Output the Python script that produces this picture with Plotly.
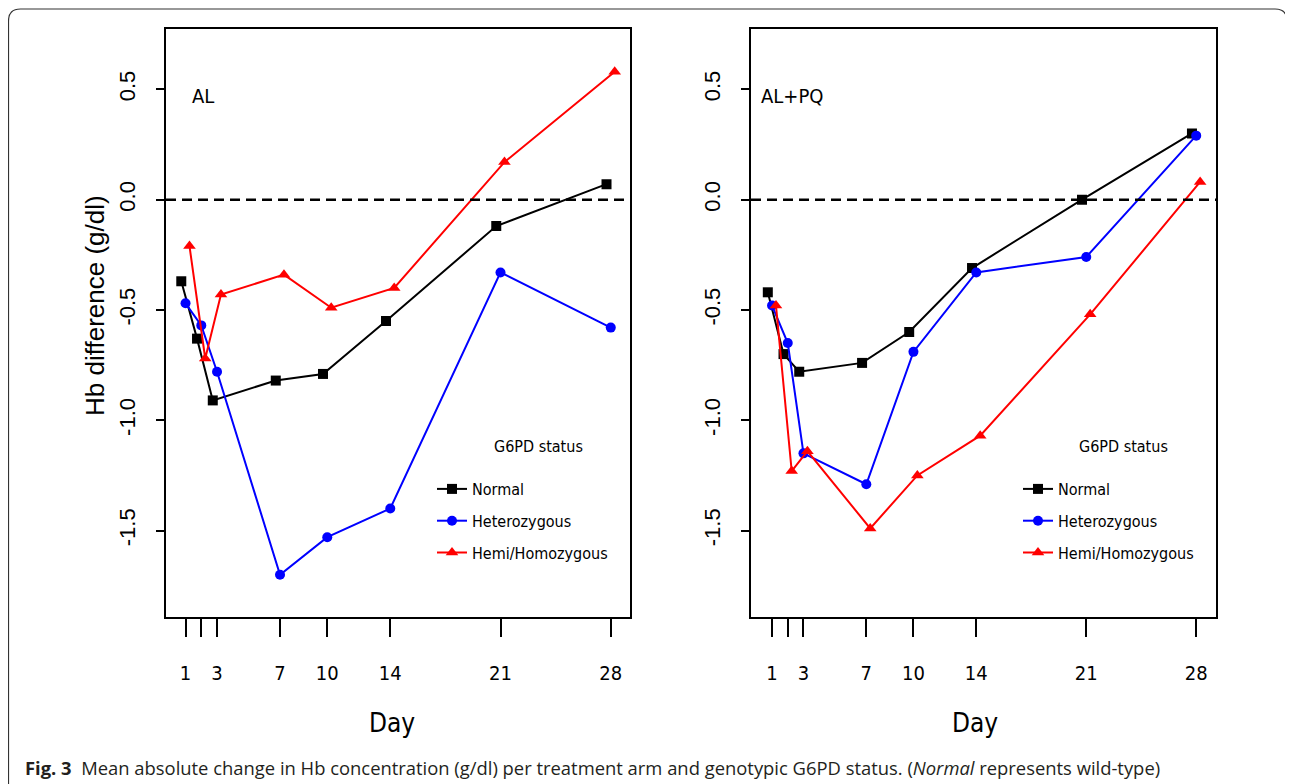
import plotly.graph_objects as go

# page is shown with the browser's default 8px body margin; the figure is
# sized and positioned so that it lands on the 1293x784 reference frame.
OFF = 8
W, H = 1293 - OFF, 784 - OFF

days = [1, 2, 3, 7, 10, 14, 21, 28]
tick_text = ["1", "", "3", "7", "10", "14", "21", "28"]
series_names = ["Normal", "Heterozygous", "Hemi/Homozygous"]

# AL arm
al_normal = [-0.37, -0.63, -0.91, -0.82, -0.79, -0.55, -0.12, 0.07]
al_hetero = [-0.47, -0.57, -0.78, -1.70, -1.53, -1.40, -0.33, -0.58]
al_hemi = [-0.21, -0.72, -0.43, -0.34, -0.49, -0.40, 0.17, 0.58]

# AL+PQ arm
pq_normal = [-0.42, -0.70, -0.78, -0.74, -0.60, -0.31, 0.00, 0.30]
pq_hetero = [-0.48, -0.65, -1.15, -1.29, -0.69, -0.33, -0.26, 0.29]
pq_hemi = [-0.48, -1.23, -1.14, -1.49, -1.25, -1.07, -0.52, 0.08]

panel_titles = ["AL", "AL+PQ"]
y_ticks = [0.5, 0.0, -0.5, -1.0, -1.5]

# styling
colors = ["#000000", "#0000ff", "#ff0000"]
symbols = ["square", "circle", "triangle-up"]
msizes = [10, 10, 11]
dodge = [-0.27, 0.0, 0.25]   # small horizontal offset used in the original plot

NARROW = "DejaVu Sans Condensed, Liberation Sans Narrow, Arial Narrow, sans-serif"
SANS = "Liberation Sans, Arial, sans-serif"


def px(x):
    return (x - OFF) / W


def py(y):
    return 1 - (y - OFF) / H


fig = go.Figure()

panels = [
    (al_normal, al_hetero, al_hemi),
    (pq_normal, pq_hetero, pq_hemi),
]
xdomains = [[px(166), px(629.5)], [px(751), px(1216)]]
xranges = [[-0.24, 29.19], [-0.34, 29.26]]
ydomain = [py(617.3), py(29.3)]
yrange = [-1.893, 0.772]

for p, vals in enumerate(panels):
    xa = "x" if p == 0 else "x2"
    ya = "y" if p == 0 else "y2"
    leg = "legend" if p == 0 else "legend2"
    for s, v in enumerate(vals):
        fig.add_trace(go.Scatter(
            x=[d + dodge[s] for d in days], y=v,
            mode="lines+markers", name=series_names[s],
            line=dict(color=colors[s], width=2),
            marker=dict(symbol=symbols[s], size=msizes[s], color=colors[s]),
            xaxis=xa, yaxis=ya, legend=leg,
            legendgroup=f"{p}-{s}",
        ))

axis_common = dict(showline=True, mirror=True, linecolor="black", linewidth=1.5,
                   showgrid=False, zeroline=False, ticks="outside", tickcolor="black")

for p in range(2):
    sfx = "" if p == 0 else "2"
    fig.layout["xaxis" + sfx] = dict(
        domain=xdomains[p], range=xranges[p], anchor="y" + sfx,
        tickmode="array", tickvals=days, ticktext=tick_text,
        ticklen=18, tickwidth=1.5, ticklabelstandoff=19,
        tickfont=dict(family=NARROW, size=20, color="black"),
        **axis_common)
    fig.layout["yaxis" + sfx] = dict(
        domain=ydomain, range=yrange, anchor="x" + sfx,
        tickmode="array", tickvals=y_ticks,
        ticktext=[f"{t:.1f}" for t in y_ticks],
        tickangle=-90, ticklen=8, tickwidth=1.5, ticklabelstandoff=12,
        tickfont=dict(family=SANS, size=22, color="black"),
        **axis_common)
    # dashed reference line at 0
    fig.add_shape(type="line", xref=f"x{sfx} domain", yref="y" + sfx,
                  x0=0, x1=1, y0=0, y1=0,
                  line=dict(color="black", width=2.5, dash="10px,6px"))

# panel labels
fig.add_annotation(text=panel_titles[0], x=px(190), y=py(96), xref="paper", yref="paper",
                   xanchor="left", yanchor="middle", showarrow=False,
                   font=dict(family=NARROW, size=20, color="black"))
fig.add_annotation(text=panel_titles[1], x=px(759), y=py(96), xref="paper", yref="paper",
                   xanchor="left", yanchor="middle", showarrow=False,
                   font=dict(family=NARROW, size=20, color="black"))

# legend titles
for cx in [538, 1123]:
    fig.add_annotation(text="G6PD status", x=px(cx), y=py(446), xref="paper", yref="paper",
                       xanchor="center", yanchor="middle", showarrow=False,
                       font=dict(family=NARROW, size=16, color="black"))

# axis titles
fig.add_annotation(text="Hb difference (g/dl)", x=px(95), y=py(306), xref="paper", yref="paper",
                   textangle=-90, showarrow=False, xanchor="center", yanchor="middle",
                   font=dict(family=SANS, size=26, color="black"))
for cx in [392, 975]:
    fig.add_annotation(text="Day", x=px(cx), y=py(723), xref="paper", yref="paper",
                       showarrow=False, xanchor="center", yanchor="middle",
                       font=dict(family=NARROW, size=26, color="black"))

# caption
fig.add_annotation(
    text="<b>Fig. 3</b>\u00a0\u00a0Mean absolute change in Hb concentration (g/dl) per treatment arm and genotypic G6PD status. (<i>Normal</i> represents wild-type)",
    x=px(23), y=py(767), xref="paper", yref="paper", xanchor="left", yanchor="middle",
    showarrow=False, font=dict(family="Open Sans, Noto Sans, sans-serif", size=18.4, color="#231f20"))

# page frame (rounded top corners)
r = 12
x0, x1, y0, y1 = 8.5, 1287, 9, 800
path = (f"M {px(x0)},{py(y1)} L {px(x0)},{py(y0 + r)} "
        f"Q {px(x0)},{py(y0)} {px(x0 + r)},{py(y0)} "
        f"L {px(x1 - r)},{py(y0)} Q {px(x1)},{py(y0)} {px(x1)},{py(y0 + r)} "
        f"L {px(x1)},{py(y1)}")
fig.add_shape(type="path", path=path, xref="paper", yref="paper",
              line=dict(color="#333333", width=1.2))

legend_common = dict(xanchor="left", yanchor="top", bgcolor="rgba(0,0,0,0)",
                     borderwidth=0, tracegroupgap=8,
                     font=dict(family=NARROW, size=16, color="black"),
                     itemwidth=30)
fig.update_layout(
    width=W, height=H,
    margin=dict(l=0, r=0, t=0, b=0),
    paper_bgcolor="white", plot_bgcolor="white",
    showlegend=True,
    legend=dict(x=px(432), y=py(472), **legend_common),
    legend2=dict(x=px(1018), y=py(472), **legend_common),
)

fig.write_html("out.html")
